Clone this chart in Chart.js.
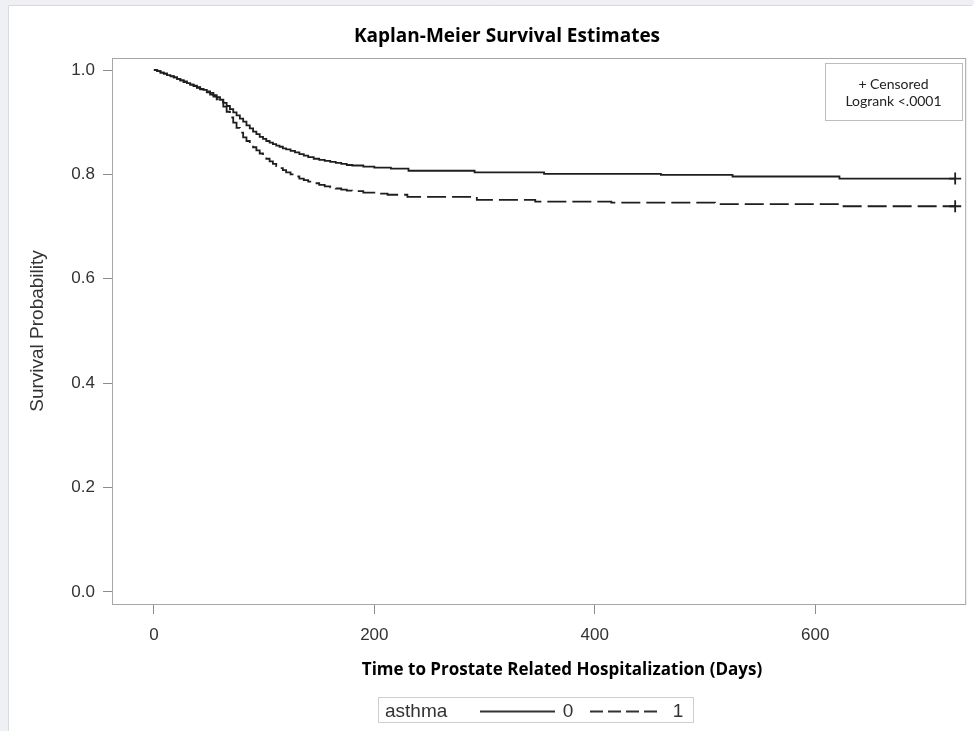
<!DOCTYPE html>
<html>
<head>
<meta charset="utf-8">
<title>Kaplan-Meier Survival Estimates</title>
<script src="https://cdn.jsdelivr.net/npm/chart.js@4.4.1/dist/chart.umd.min.js"></script>
<style>
  html, body { margin:0; padding:0; background:#eef0f3; }
  #wrap { width:974px; height:731px; }
</style>
</head>
<body>
<div id="wrap"><canvas id="kmChart" width="974" height="731"></canvas></div>
<script>
// ================= DATA =================
const groupLabels = ["0", "1"];

// asthma = 0
const days0 = [0,3,6,9,12,15,18,21,24,27,30,33,36,39,42,45,48,51,54,57,60,63,66,69,72,75,78,81,84,87,90,93,96,99,102,105,108,111,114,117,120,124,128,132,136,140,145,150,155,160,165,170,175,180,190,200,215,231,291,354,460,525,622,727];
const surv0 = [1.000,0.998,0.995,0.993,0.990,0.988,0.986,0.983,0.980,0.978,0.975,0.972,0.970,0.967,0.964,0.962,0.959,0.956,0.952,0.948,0.943,0.937,0.931,0.925,0.919,0.913,0.907,0.901,0.894,0.888,0.882,0.877,0.872,0.868,0.864,0.861,0.858,0.855,0.853,0.850,0.848,0.845,0.842,0.839,0.836,0.833,0.830,0.828,0.826,0.824,0.822,0.820,0.818,0.817,0.815,0.813,0.811,0.807,0.804,0.801,0.799,0.796,0.792,0.792];

// asthma = 1
const days1 = [0,3,6,9,12,15,18,21,24,27,30,33,36,39,42,45,48,51,54,57,60,63,66,69,72,75,78,81,84,87,90,93,96,99,102,105,108,111,114,117,120,124,128,132,136,140,145,150,155,160,165,170,175,180,190,200,212,230,293,346,415,509,624,727];
const surv1 = [1.000,0.998,0.995,0.993,0.990,0.988,0.986,0.983,0.980,0.977,0.975,0.972,0.969,0.966,0.963,0.960,0.957,0.953,0.949,0.944,0.939,0.930,0.920,0.909,0.899,0.889,0.880,0.871,0.864,0.858,0.852,0.846,0.840,0.835,0.830,0.825,0.820,0.816,0.812,0.808,0.804,0.800,0.796,0.792,0.789,0.786,0.783,0.780,0.777,0.775,0.773,0.771,0.769,0.768,0.765,0.763,0.761,0.757,0.751,0.748,0.746,0.743,0.739,0.739];

const xTicks = [0, 200, 400, 600];
const yTicks = [0, 0.2, 0.4, 0.6, 0.8, 1.0];

const titleText = "Kaplan-Meier Survival Estimates";
const xTitle = "Time to Prostate Related Hospitalization (Days)";
const yTitle = "Survival Probability";
const insetLines = ["+ Censored", "Logrank <.0001"];
const legendTitle = "asthma";

// ================= HELPERS =================
const toPoints = (days, surv) => days.map((d, i) => ({x: d, y: surv[i]}));
// only the last observation gets the censor mark
const lastOnly = ctx => ctx.dataIndex === ctx.dataset.data.length - 1 ? 6 : 0;

const LINE = "#1e1e1e";
const SANS = "'Liberation Sans', Arial, sans-serif";
const HUM = "'Open Sans', Lato, sans-serif";

// ================= FRAME / TEXT PLUGIN =================
const decorations = {
  id: "decorations",
  beforeDraw(chart){
    const ctx = chart.ctx;
    ctx.save();
    ctx.fillStyle = "#eef0f3";
    ctx.fillRect(0, 0, chart.width, chart.height);
    ctx.fillStyle = "#ffffff";
    ctx.fillRect(8, 5, chart.width - 8, chart.height - 5);
    ctx.strokeStyle = "#d6dade";
    ctx.lineWidth = 1;
    ctx.beginPath();
    ctx.moveTo(8.5, chart.height);
    ctx.lineTo(8.5, 5.5);
    ctx.lineTo(chart.width - 2, 5.5);
    ctx.stroke();
    ctx.restore();
  },
  afterDraw(chart){
    const ctx = chart.ctx;
    const a = chart.chartArea;
    ctx.save();

    // plot frame
    ctx.strokeStyle = "#a6a6a6";
    ctx.lineWidth = 1;
    ctx.strokeRect(a.left + 0.5, a.top + 0.5, a.right - a.left - 1, a.bottom - a.top - 1);

    // title
    ctx.fillStyle = "#000";
    ctx.textAlign = "center";
    ctx.textBaseline = "alphabetic";
    ctx.font = "bold 19px " + HUM;
    ctx.fillText(titleText, 507, 42);

    // x axis title
    ctx.font = "bold 17px " + HUM;
    ctx.fillText(xTitle, 562, 675);

    // y axis title
    ctx.save();
    ctx.translate(43, 331);
    ctx.rotate(-Math.PI / 2);
    ctx.font = "19px " + SANS;
    ctx.fillStyle = "#333";
    ctx.fillText(yTitle, 0, 0);
    ctx.restore();

    // censored / logrank box
    ctx.strokeStyle = "#bdbdbd";
    ctx.strokeRect(825.5, 63.5, 137, 57);
    ctx.font = "14px Lato, sans-serif";
    ctx.fillStyle = "#222";
    ctx.fillText(insetLines[0], 893.5, 89);
    ctx.fillText(insetLines[1], 893.5, 106);

    // group legend
    ctx.strokeStyle = "#cfcfcf";
    ctx.strokeRect(378.5, 697.5, 315, 25);
    ctx.font = "19px " + SANS;
    ctx.fillStyle = "#333";
    ctx.textAlign = "left";
    ctx.fillText(legendTitle, 385, 717);
    ctx.textAlign = "center";
    ctx.fillText(groupLabels[0], 568, 717);
    ctx.fillText(groupLabels[1], 678, 717);

    ctx.strokeStyle = "#333";
    ctx.lineWidth = 1.8;
    ctx.beginPath();
    ctx.moveTo(480, 711.5); ctx.lineTo(555, 711.5);
    ctx.stroke();
    ctx.setLineDash([13, 5]);
    ctx.beginPath();
    ctx.moveTo(590, 711.5); ctx.lineTo(658, 711.5);
    ctx.stroke();

    ctx.restore();
  }
};

// ================= CHART =================
new Chart(document.getElementById("kmChart"), {
  type: "line",
  data: {
    datasets: [
      {
        label: groupLabels[0],
        data: toPoints(days0, surv0),
        borderColor: LINE,
        borderWidth: 1.8,
        stepped: "before",
        pointStyle: "cross",
        pointRadius: lastOnly,
        pointBorderColor: LINE,
        pointBorderWidth: 1.8
      },
      {
        label: groupLabels[1],
        data: toPoints(days1, surv1),
        borderColor: LINE,
        borderWidth: 1.8,
        borderDash: [19, 6],
        stepped: "before",
        pointStyle: "cross",
        pointRadius: lastOnly,
        pointBorderColor: LINE,
        pointBorderWidth: 1.8
      }
    ]
  },
  options: {
    responsive: false,
    animation: false,
    events: [],
    layout: { padding: { top: 58, right: 6, left: 0, bottom: 0 } },
    plugins: {
      legend: { display: false },
      title: { display: false },
      tooltip: { enabled: false }
    },
    scales: {
      x: {
        type: "linear",
        min: -38,
        max: 737,
        afterFit: s => { s.height = 126; },
        afterBuildTicks: s => { s.ticks = xTicks.map(v => ({value: v})); },
        grid: { drawOnChartArea: false, drawTicks: true, tickLength: 9, color: "#8c8c8c" },
        border: { display: false },
        ticks: { padding: 11, color: "#333", font: { family: SANS, size: 17 } }
      },
      y: {
        type: "linear",
        min: -0.025,
        max: 1.023,
        afterFit: s => { s.width = 112; },
        afterBuildTicks: s => { s.ticks = yTicks.map(v => ({value: v})); },
        grid: { drawOnChartArea: false, drawTicks: true, tickLength: 9, color: "#8c8c8c" },
        border: { display: false },
        ticks: { padding: 8, color: "#333", font: { family: SANS, size: 17 }, callback: v => v.toFixed(1) }
      }
    }
  },
  plugins: [decorations]
});
</script>
</body>
</html>
